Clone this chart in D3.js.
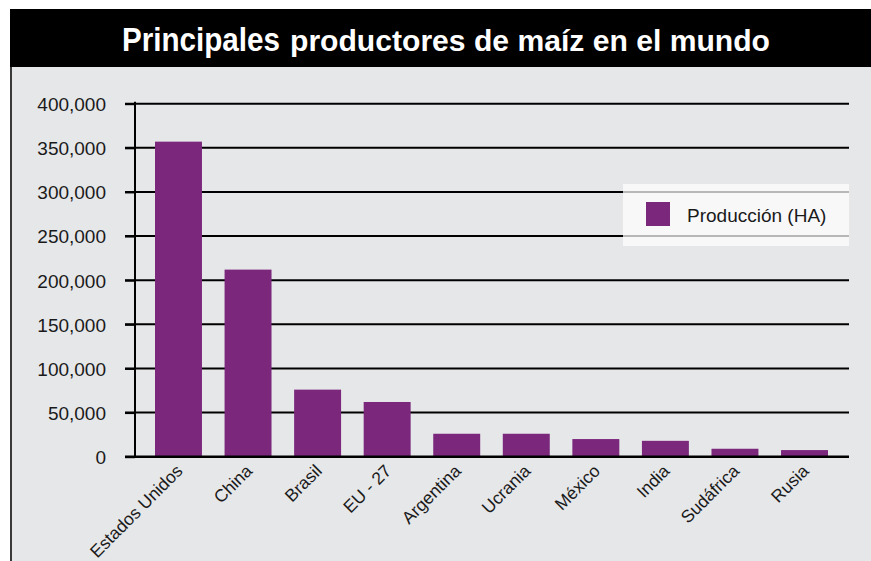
<!DOCTYPE html>
<html>
<head>
<meta charset="utf-8">
<script src="https://cdn.jsdelivr.net/npm/d3@7"></script>
<style>
  body { margin: 0; background: #fff; }
  svg { display: block; font-family: "Liberation Sans", Arial, sans-serif; }
</style>
</head>
<body>
<svg id="chart" width="871" height="561"></svg>
<script>
// Producción de maíz por país
const countries = ["Estados Unidos", "China", "Brasil", "EU - 27", "Argentina", "Ucrania", "México", "India", "Sudáfrica", "Rusia"];
const production = [357000, 212000, 76000, 62000, 26000, 26000, 20000, 18000, 9000, 7500];
const yTicks = [0, 50000, 100000, 150000, 200000, 250000, 300000, 350000, 400000];
const seriesName = "Producción (HA)";

const width = 871, height = 561;
const barColor = "#7b287c";

const svg = d3.select("#chart");

// background panel + title band
svg.append("rect").attr("x", 12).attr("y", 66).attr("width", width - 12).attr("height", height - 66).attr("fill", "#e6e7e9");
svg.append("rect").attr("x", 10).attr("y", 66).attr("width", 2).attr("height", height - 66).attr("fill", "#3a3a3a");
svg.append("rect").attr("x", 10).attr("y", 9).attr("width", width - 10).attr("height", 58).attr("fill", "#000");

// title: two sizes, squeezed to the reference width
svg.append("text")
    .attr("x", 122).attr("y", 51)
    .attr("textLength", 158).attr("lengthAdjust", "spacingAndGlyphs")
    .style("font-size", "34px").style("font-weight", "bold")
    .attr("fill", "#fff")
    .text("Principales");
svg.append("text")
    .attr("x", 290).attr("y", 51)
    .attr("textLength", 480).attr("lengthAdjust", "spacingAndGlyphs")
    .style("font-size", "29px").style("font-weight", "bold")
    .attr("fill", "#fff")
    .text("productores de maíz en el mundo");

// scales
const xScale = d3.scaleBand()
    .domain(countries)
    .range([143.7, 839.3])
    .paddingInner(0.325)
    .paddingOuter(0.1625);

const yScale = d3.scaleLinear()
    .domain([0, 400000])
    .range([456.7, 103.7]);

// gridlines
svg.append("g")
    .selectAll("line")
    .data(yTicks.filter(d => d > 0))
    .enter()
    .append("line")
    .attr("x1", 125)
    .attr("x2", 849)
    .attr("y1", d => yScale(d))
    .attr("y2", d => yScale(d))
    .attr("stroke", "#000")
    .attr("stroke-width", 2);

// y axis
const yAxis = svg.append("g")
    .attr("transform", "translate(135,0)")
    .call(d3.axisLeft(yScale).tickValues(yTicks).tickSize(10).tickPadding(19).tickFormat(d3.format(",")));
yAxis.select(".domain").attr("stroke-width", 2).attr("d", "M0," + yScale(0) + "V" + (yScale(400000) - 2));
yAxis.selectAll(".tick line").attr("stroke-width", 2);
yAxis.selectAll(".tick text").style("font-size", "19px").attr("fill", "#1a1a1a").attr("dy", "0.36em");

// bars
svg.append("g")
    .selectAll("rect")
    .data(countries)
    .enter()
    .append("rect")
    .attr("x", d => xScale(d))
    .attr("y", (d, i) => yScale(production[i]))
    .attr("width", xScale.bandwidth())
    .attr("height", (d, i) => yScale(0) - yScale(production[i]))
    .attr("fill", barColor);

// baseline
svg.append("line")
    .attr("x1", 125).attr("x2", 849)
    .attr("y1", yScale(0)).attr("y2", yScale(0))
    .attr("stroke", "#000").attr("stroke-width", 2.5);

// x labels
svg.append("g")
    .selectAll("text")
    .data(countries)
    .enter()
    .append("text")
    .attr("transform", d => `translate(${xScale(d) + xScale.bandwidth() / 2 + 1},${yScale(0) + 11}) rotate(-45)`)
    .attr("text-anchor", "end")
    .attr("dy", "0.35em")
    .style("font-size", "17.5px")
    .attr("fill", "#1a1a1a")
    .text(d => d);

// legend
const legend = svg.append("g").attr("transform", "translate(623,184)");
legend.append("rect").attr("width", 226).attr("height", 62).attr("fill", "#fff").attr("fill-opacity", 0.72);
legend.append("rect").attr("x", 23).attr("y", 18).attr("width", 24).attr("height", 24).attr("fill", barColor);
legend.append("text").attr("x", 64).attr("y", 38).style("font-size", "19px").attr("fill", "#1a1a1a").text(seriesName);
</script>
</body>
</html>
